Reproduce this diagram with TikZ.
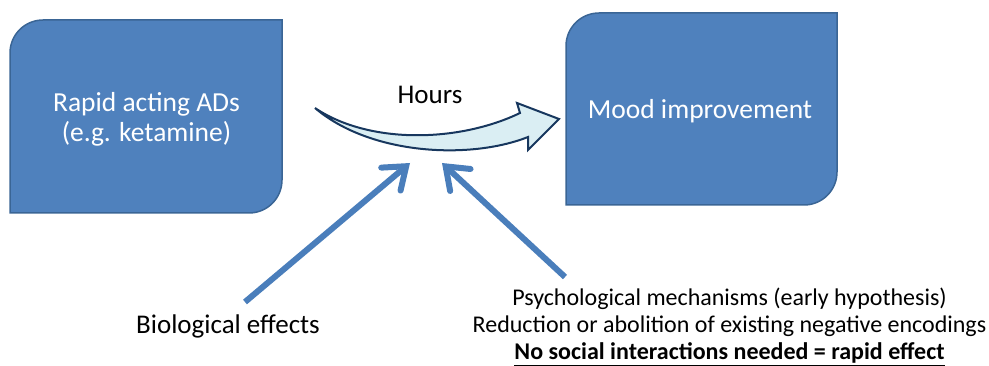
\documentclass[tikz,border=0pt]{standalone}
\usepackage{fontspec}
\setmainfont{Carlito}
\usetikzlibrary{arrows.meta}
\definecolor{boxblue}{HTML}{4F81BD}
\definecolor{boxedge}{HTML}{3A6595}
\definecolor{arrowblue}{HTML}{4A7EBB}
\definecolor{curvefill}{HTML}{DAEEF3}
\definecolor{curveedge}{HTML}{17375E}
\tikzset{
  boxshape/.style={fill=boxblue, draw=boxedge, line width=1.5pt},
  boxtext/.style={text=white, align=center, font=\fontsize{27.5}{30}\selectfont, inner sep=0pt},
  plaintext/.style={text=black, align=center, font=\fontsize{27}{30}\selectfont, inner sep=0pt},
  smalltext/.style={text=black, align=center, font=\fontsize{24}{27}\selectfont, inner sep=0pt},
  bluearrow/.style={draw=arrowblue, line width=6pt, -{Straight Barb[length=20pt,width=30pt,line cap=round]}},
}
\begin{document}
\begin{tikzpicture}[x=1pt,y=-1pt]
\useasboundingbox (0,0) rectangle (989,366);
% left box (rounded top-left and bottom-right corners)
\path[boxshape] (10,213) -- (10,53) .. controls (10,34.8) and (24.8,20) .. (43,20)
  -- (282,20) -- (282,180) .. controls (282,198.2) and (267.2,213) .. (249,213) -- cycle;
\node[boxtext] (ads) at (146.5,119) {Rapid acting ADs\\(e.g. ketamine)};
% right box
\path[boxshape] (566,205) -- (566,46) .. controls (566,27.8) and (580.8,13) .. (599,13)
  -- (837,13) -- (837,172) .. controls (837,190.2) and (822.2,205) .. (804,205) -- cycle;
\node[boxtext] (mood) at (700,111) {Mood improvement};
% curved arrow
\node[plaintext] (hours) at (430,95) {Hours};
\path[fill=curvefill, draw=curveedge, line width=2pt, line join=miter]
  (315,108) .. controls (370,145) and (460,142) .. (520,113)
  -- (517,103) -- (559,119) -- (528,150) -- (528,137)
  .. controls (470,160) and (370,155) .. (315,108) -- cycle;
% bottom texts
\node[plaintext] (bio) at (228,326) {Biological effects};
\node[smalltext] (psy) at (729.5,327) {Psychological mechanisms (early hypothesis)\\Reduction or abolition of existing negative encodings\\\underline{\textbf{No social interactions needed = rapid effect}}};
\coordinate (bt) at (245,302);
\coordinate (bh) at (410,163);
\coordinate (pt) at (565,277);
\coordinate (ph) at (442,163);
\draw[bluearrow] (bt) -- (bh);
\draw[bluearrow] (pt) -- (ph);
\end{tikzpicture}
\end{document}
